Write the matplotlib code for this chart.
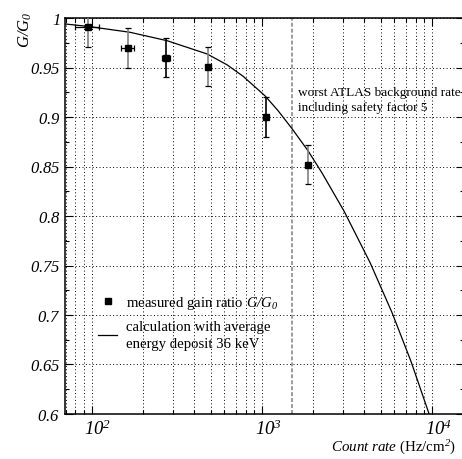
import matplotlib
matplotlib.use('Agg')
import matplotlib.pyplot as plt
import matplotlib.transforms as mtransforms
from matplotlib.lines import Line2D
from matplotlib.ticker import FixedLocator, LogLocator, FuncFormatter, NullFormatter
import numpy as np

plt.rcParams['font.family'] = ['Liberation Serif', 'DejaVu Serif']
plt.rcParams['mathtext.fontset'] = 'custom'
plt.rcParams['mathtext.rm'] = 'Liberation Serif:italic'
plt.rcParams['mathtext.it'] = 'Liberation Serif:italic'
plt.rcParams['mathtext.default'] = 'it'

# measured gain ratio
rate = [95, 162, 272, 480, 1050, 1870]
gain = [0.991, 0.970, 0.960, 0.951, 0.900, 0.852]
gain_err = [0.02, 0.02, 0.02, 0.02, 0.02, 0.02]
rate_lo = [79, 148, 259, 480, 1050, 1870]
rate_hi = [110, 177, 288, 480, 1050, 1870]
bar_gray = [True, True, False, True, False, True]

# calculation, average energy deposit 36 keV
calc_rate = [69.4, 94.7, 167, 276, 475, 623, 773, 1041, 1242, 1501, 1865, 2254,
             3036, 4318, 5816, 7522, 9603]
calc_gain = [0.994, 0.9915, 0.9856, 0.9771, 0.9637, 0.9527, 0.9412, 0.9214, 0.9064,
             0.8882, 0.8658, 0.8434, 0.8049, 0.7529, 0.7023, 0.6529, 0.600]

atlas_rate = 1500

fig = plt.figure(figsize=(4.62, 4.60), dpi=100)
ax = fig.add_axes([65 / 462, 1 - 415 / 460, (464 - 65) / 462, (415 - 19) / 460])

ax.set_xscale('log')
ax.set_xlim(69.4, 15400)
ax.set_ylim(0.6, 1.0)

# grid
ax.grid(True, which='major', axis='y', color='black', lw=0.7, ls=(0, (1, 2.5)))
ax.grid(True, which='both', axis='x', color='black', lw=0.7, ls=(0, (1, 2.5)))
ax.set_axisbelow(True)

# curve
ax.plot(calc_rate, calc_gain, color='black', lw=0.9, zorder=3)

# data points
for r, g, e, lo, hi, gray in zip(rate, gain, gain_err, rate_lo, rate_hi, bar_gray):
    ec = '#808080' if gray else 'black'
    ax.errorbar([r], [g], yerr=[e], fmt='none', ecolor=ec, elinewidth=1.2,
                capsize=0, zorder=4)
    ax.errorbar([r], [g], yerr=[e], fmt='none', ecolor='black', elinewidth=0,
                capsize=2.5, capthick=0.9, zorder=4)
    if hi > lo:
        ax.errorbar([r], [g], xerr=[[r - lo], [hi - r]], fmt='none', ecolor='black',
                    elinewidth=0.9, capsize=2.5, capthick=0.9, zorder=4)
ax.plot(rate, gain, 's', color='black', ms=5, zorder=5)

# ATLAS background line
ax.axvline(atlas_rate, color='#808080', lw=1.1, ls=(0, (2.6, 1.3)), zorder=2)
ax.text(1630, 0.925, 'worst ATLAS background rate', fontsize=9.5, va='center', ha='left')
ax.text(1630, 0.9100, 'including safety factor 5', fontsize=9.5, va='center', ha='left')

# ticks
ax.yaxis.set_major_locator(FixedLocator([0.6, 0.65, 0.7, 0.75, 0.8, 0.85, 0.9, 0.95, 1.0]))
ax.yaxis.set_minor_locator(FixedLocator(np.arange(0.625, 1.0, 0.05)))
ax.yaxis.set_major_formatter(FuncFormatter(lambda v, p: '$%g$' % round(v, 3)))
ax.xaxis.set_major_locator(LogLocator(base=10, numticks=10))
ax.xaxis.set_minor_locator(LogLocator(base=10, subs=np.arange(2, 10), numticks=20))
ax.xaxis.set_major_formatter(FuncFormatter(lambda v, p: '$10^{%d}$' % round(np.log10(v))))
ax.xaxis.set_minor_formatter(NullFormatter())

ax.tick_params(which='both', direction='in', top=True, right=True, width=0.8)
ax.tick_params(which='major', length=5.5)
ax.tick_params(which='minor', length=3)
ax.tick_params(axis='y', labelsize=12, pad=3.5)
ax.tick_params(axis='x', labelsize=13.5, pad=3)
for s in ax.spines.values():
    s.set_linewidth(1.1)

offset = mtransforms.ScaledTranslation(6 / 100, 0, fig.dpi_scale_trans)
for t in ax.xaxis.get_major_ticks():
    t.label1.set_transform(t.label1.get_transform() + offset)

# legend
handles = [Line2D([], [], marker='s', color='black', ls='none', ms=5),
           Line2D([], [], color='black', lw=0.9)]
labels = ['measured gain ratio $G/G_0$',
          'calculation with average\nenergy deposit 36 keV']
leg = ax.legend(handles, labels, loc='upper left', bbox_to_anchor=(98 / 462, 1 - 295 / 460),
                bbox_transform=fig.transFigure, frameon=False, fontsize=10.6, borderpad=0,
                handlelength=1.3, handletextpad=0.6, labelspacing=0.6, borderaxespad=0)
for txt in leg.get_texts():
    txt.set_linespacing(1.4)

# axis labels
fig.text(25 / 462, 1 - 30 / 460, '$G/G_0$', rotation=90, fontsize=12,
         ha='center', va='center')
fig.text(456 / 462, 1 - 448 / 460, '$Count\\ rate$ (Hz/cm$^{2}$)', fontsize=10.8,
         ha='right', va='center')

fig.savefig('out.png', dpi=100)
